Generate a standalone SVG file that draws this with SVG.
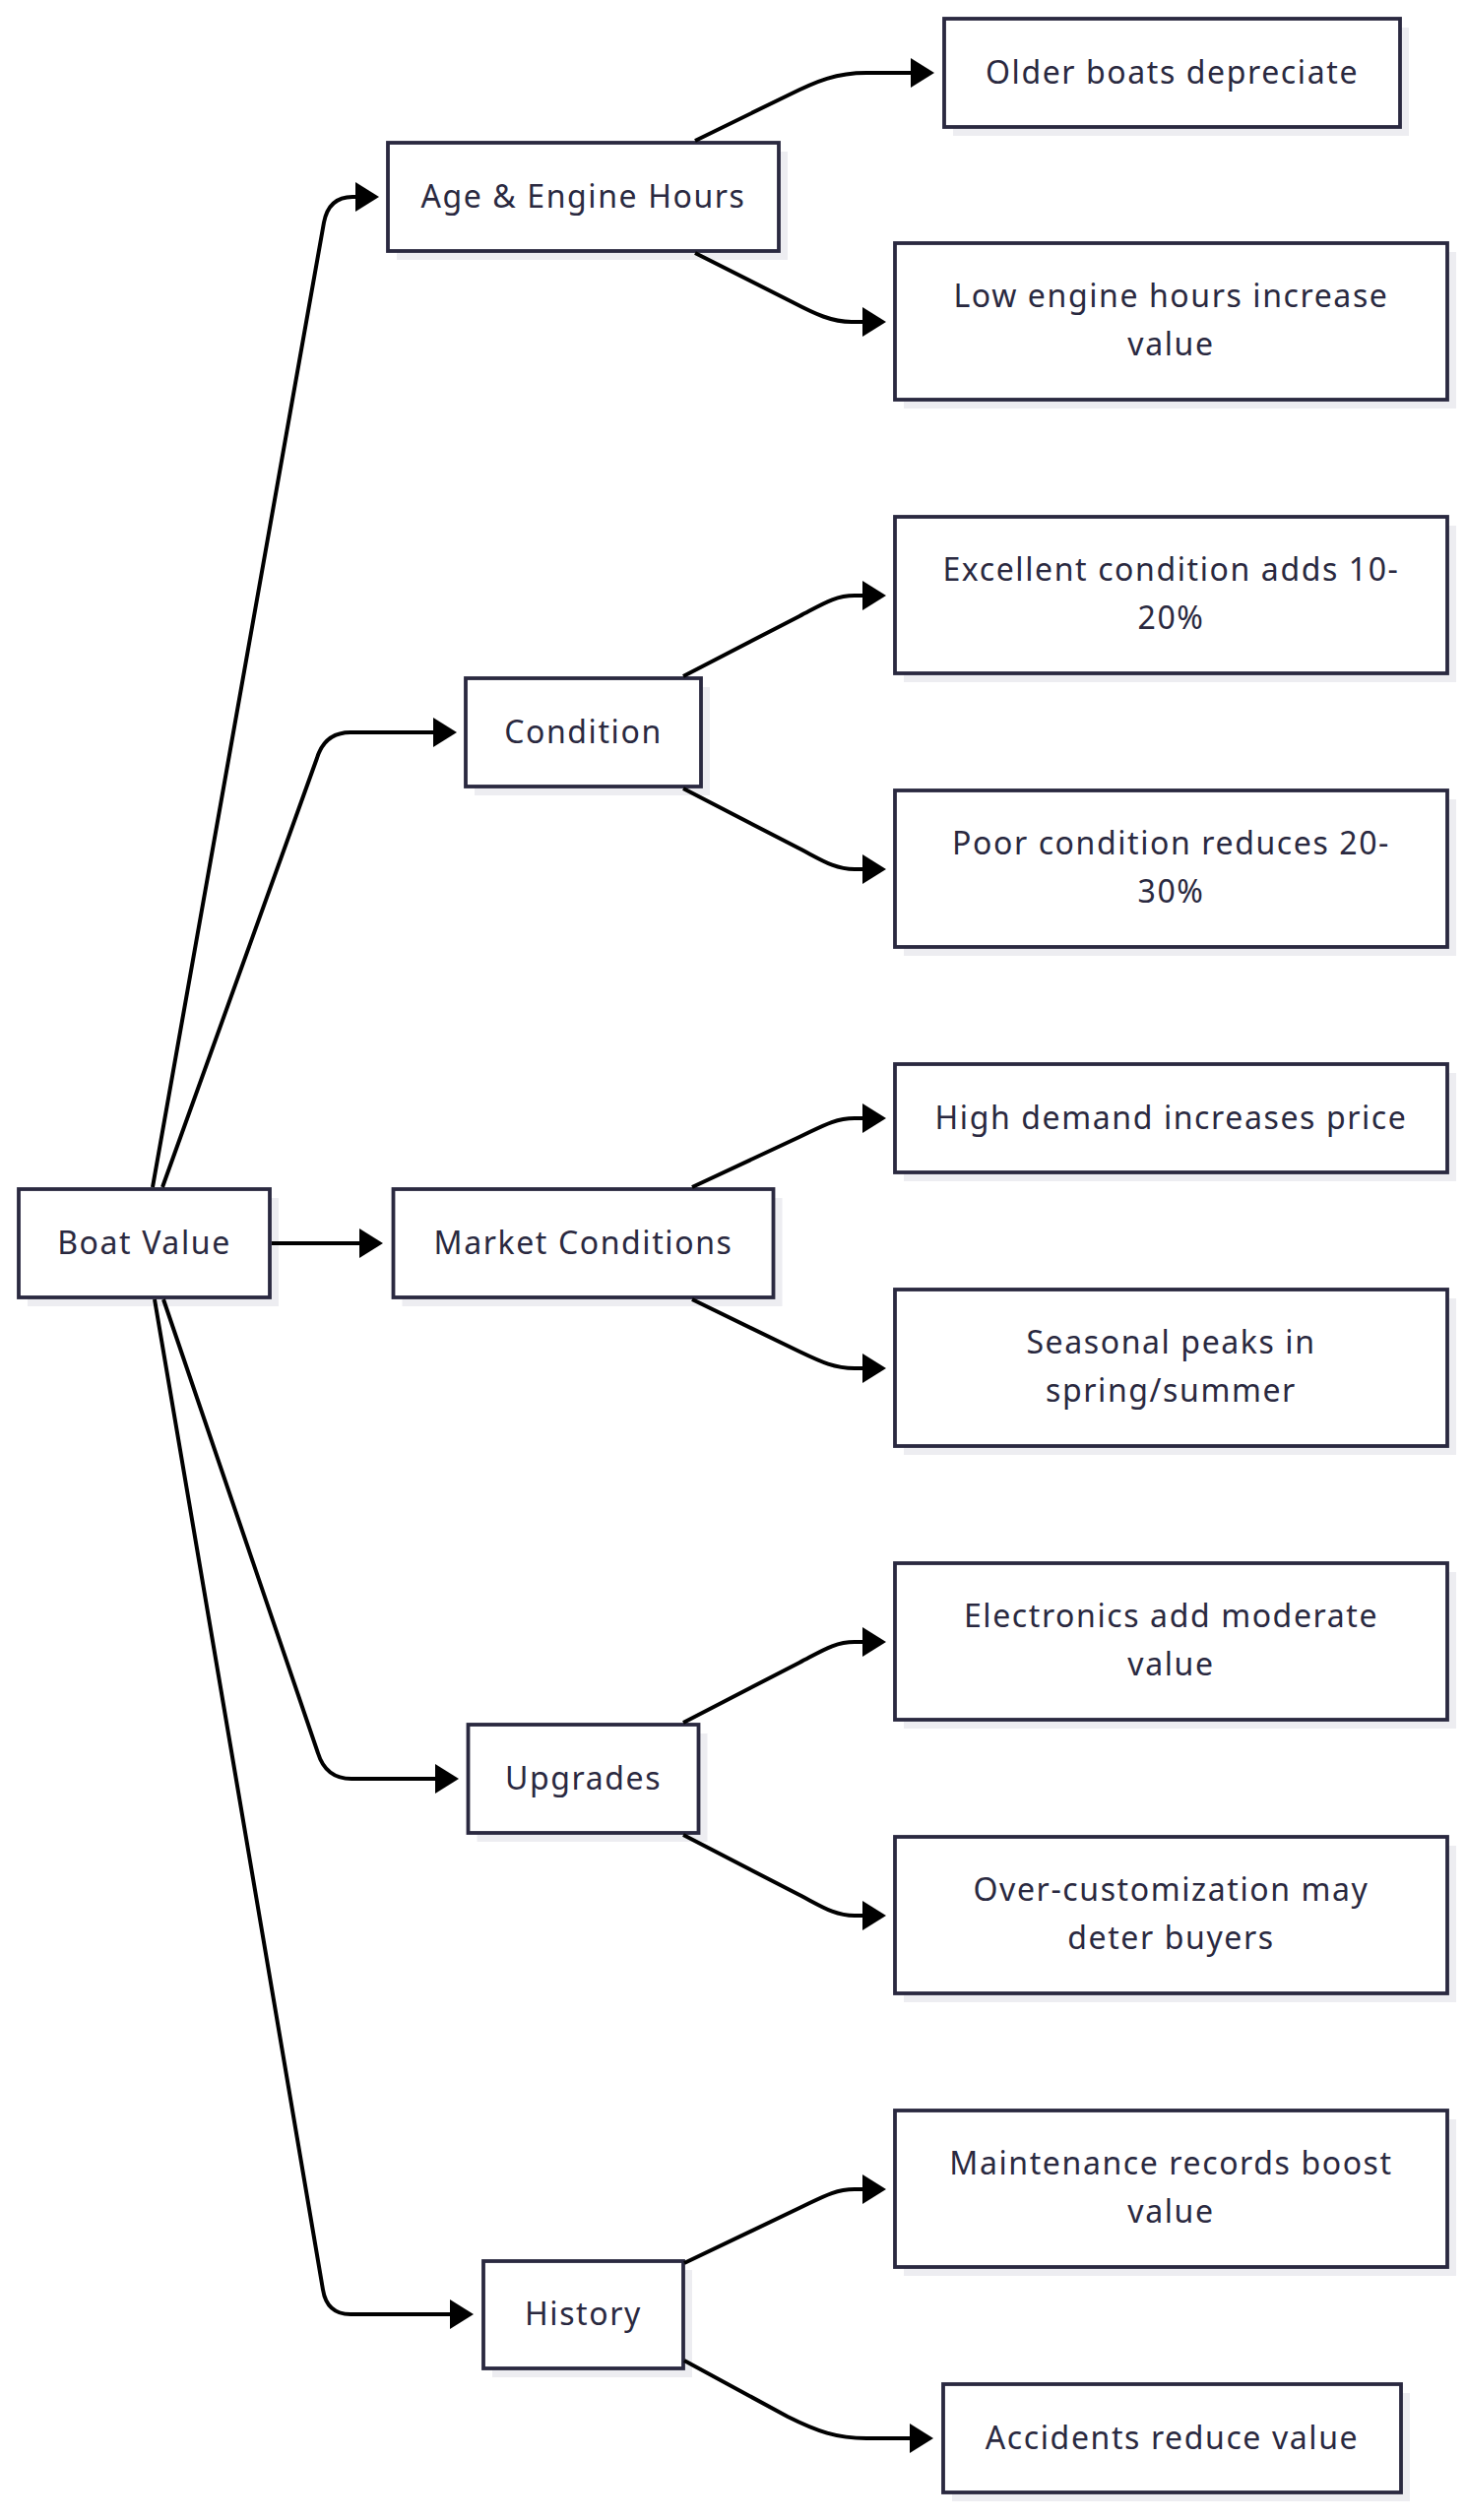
<svg xmlns="http://www.w3.org/2000/svg" width="1489" height="2560" viewBox="0 0 1489 2560">
<defs>
<style>
.box{fill:#ffffff;stroke:#2a2940;stroke-width:3.8}
.shadow{fill:#ededf1}
.lbl{font-family:"Noto Sans","Liberation Sans",sans-serif;font-size:32px;letter-spacing:1.6px;fill:#2a2940;text-anchor:middle}
.edge{fill:none;stroke:#000000;stroke-width:4;marker-end:url(#arrow)}
</style>
<marker id="arrow" viewBox="0 0 24 30" refX="18" refY="15" markerWidth="24" markerHeight="30" markerUnits="userSpaceOnUse" orient="auto">
<path d="M0,0 L24,15 L0,30 z" fill="#000000"/>
</marker>
</defs>
<rect width="1489" height="2560" fill="#ffffff"/>
<g id="boat-value">
<rect class="shadow" x="28" y="1217" width="255" height="110"/>
<rect class="box" x="19" y="1208" width="255" height="110"/>
<text class="lbl" x="146.5" y="1274">Boat Value</text>
</g>
<g id="age-engine-hours">
<rect class="shadow" x="403" y="154" width="397" height="110"/>
<rect class="box" x="394" y="145" width="397" height="110"/>
<text class="lbl" x="592.5" y="211">Age &amp; Engine Hours</text>
</g>
<g id="condition">
<rect class="shadow" x="482" y="698" width="239" height="110"/>
<rect class="box" x="473" y="689" width="239" height="110"/>
<text class="lbl" x="592.5" y="755">Condition</text>
</g>
<g id="market-conditions">
<rect class="shadow" x="408.5" y="1217" width="386" height="110"/>
<rect class="box" x="399.5" y="1208" width="386" height="110"/>
<text class="lbl" x="592.5" y="1274">Market Conditions</text>
</g>
<g id="upgrades">
<rect class="shadow" x="484.5" y="1761" width="234" height="110"/>
<rect class="box" x="475.5" y="1752" width="234" height="110"/>
<text class="lbl" x="592.5" y="1818">Upgrades</text>
</g>
<g id="history">
<rect class="shadow" x="500" y="2306" width="203" height="109"/>
<rect class="box" x="491" y="2297" width="203" height="109"/>
<text class="lbl" x="592.5" y="2362">History</text>
</g>
<g id="older-boats">
<rect class="shadow" x="968" y="28" width="463" height="110"/>
<rect class="box" x="959" y="19" width="463" height="110"/>
<text class="lbl" x="1190.5" y="85">Older boats depreciate</text>
</g>
<g id="low-engine-hours">
<rect class="shadow" x="918" y="256" width="561" height="159"/>
<rect class="box" x="909" y="247" width="561" height="159"/>
<text class="lbl" x="1189.5" y="312">Low engine hours increase</text>
<text class="lbl" x="1189.5" y="361">value</text>
</g>
<g id="excellent-condition">
<rect class="shadow" x="918" y="534" width="561" height="159"/>
<rect class="box" x="909" y="525" width="561" height="159"/>
<text class="lbl" x="1189.5" y="590">Excellent condition adds 10-</text>
<text class="lbl" x="1189.5" y="639">20%</text>
</g>
<g id="poor-condition">
<rect class="shadow" x="918" y="812" width="561" height="159"/>
<rect class="box" x="909" y="803" width="561" height="159"/>
<text class="lbl" x="1189.5" y="868">Poor condition reduces 20-</text>
<text class="lbl" x="1189.5" y="917">30%</text>
</g>
<g id="high-demand">
<rect class="shadow" x="918" y="1090" width="561" height="110"/>
<rect class="box" x="909" y="1081" width="561" height="110"/>
<text class="lbl" x="1189.5" y="1147">High demand increases price</text>
</g>
<g id="seasonal-peaks">
<rect class="shadow" x="918" y="1319" width="561" height="159"/>
<rect class="box" x="909" y="1310" width="561" height="159"/>
<text class="lbl" x="1189.5" y="1375">Seasonal peaks in</text>
<text class="lbl" x="1189.5" y="1424">spring/summer</text>
</g>
<g id="electronics">
<rect class="shadow" x="918" y="1597" width="561" height="159"/>
<rect class="box" x="909" y="1588" width="561" height="159"/>
<text class="lbl" x="1189.5" y="1653">Electronics add moderate</text>
<text class="lbl" x="1189.5" y="1702">value</text>
</g>
<g id="over-customization">
<rect class="shadow" x="918" y="1875" width="561" height="159"/>
<rect class="box" x="909" y="1866" width="561" height="159"/>
<text class="lbl" x="1189.5" y="1931">Over-customization may</text>
<text class="lbl" x="1189.5" y="1980">deter buyers</text>
</g>
<g id="maintenance-records">
<rect class="shadow" x="918" y="2153" width="561" height="159"/>
<rect class="box" x="909" y="2144" width="561" height="159"/>
<text class="lbl" x="1189.5" y="2209">Maintenance records boost</text>
<text class="lbl" x="1189.5" y="2258">value</text>
</g>
<g id="accidents">
<rect class="shadow" x="967" y="2431" width="465" height="110"/>
<rect class="box" x="958" y="2422" width="465" height="110"/>
<text class="lbl" x="1190.5" y="2488">Accidents reduce value</text>
</g>
<g id="connectors">
<path class="edge" d="M155,1206 L329,226 Q334,200 358,200 L379,200"/>
<path class="edge" d="M165,1206 L322,770 Q330,744 356,744 L458,744"/>
<path class="edge" d="M276,1263 L383,1263"/>
<path class="edge" d="M166,1320 L323,1781 Q331,1807 357,1807 L460,1807"/>
<path class="edge" d="M157,1320 L328,2326 Q332,2351 356,2351 L475,2351"/>
<path class="edge" d="M706,143 L800,97 C830,82 850,74 880,74 L943,74"/>
<path class="edge" d="M706,257 L805,307 C828,319 845,327 865,327 L894,327"/>
<path class="edge" d="M694,687 L812,626 C835,614 848,605 868,605 L894,605"/>
<path class="edge" d="M694,801 L812,862 C835,874 848,883 868,883 L894,883"/>
<path class="edge" d="M703,1206 L812,1155 C835,1144 848,1136 868,1136 L894,1136"/>
<path class="edge" d="M703,1320 L812,1373 C835,1384 848,1390 868,1390 L894,1390"/>
<path class="edge" d="M694,1750 L812,1689 C835,1677 848,1668 868,1668 L894,1668"/>
<path class="edge" d="M694,1864 L812,1925 C835,1937 848,1946 868,1946 L894,1946"/>
<path class="edge" d="M695,2299 L812,2243 C835,2232 848,2224 868,2224 L894,2224"/>
<path class="edge" d="M695,2398 L800,2455 C830,2470 850,2477 880,2477 L942,2477"/>
</g>
</svg>
